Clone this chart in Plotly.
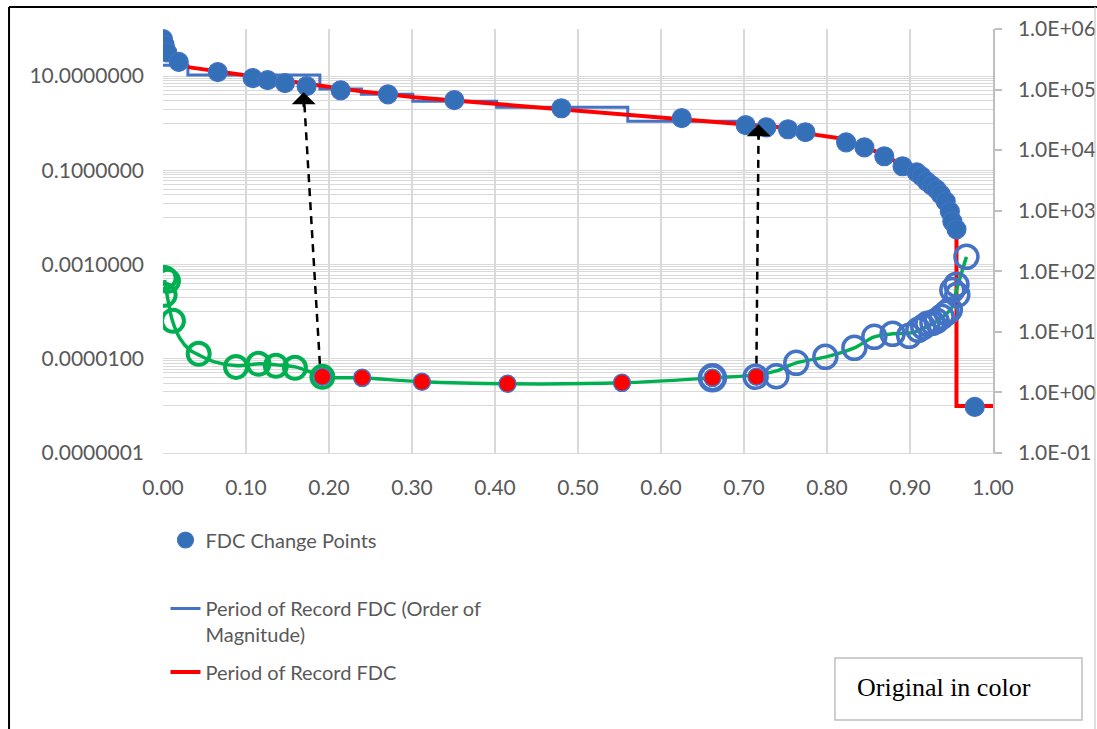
import numpy as np
import plotly.graph_objects as go

# ---- FDC change points (left axis) ----
cp_x = [0.000, 0.002, 0.005, 0.019, 0.066, 0.108, 0.126, 0.147, 0.173, 0.214, 0.271, 0.351, 0.480, 0.625,
        0.702, 0.727, 0.753, 0.774, 0.823, 0.845, 0.869, 0.891, 0.908, 0.914, 0.920, 0.926, 0.932, 0.937,
        0.943, 0.948, 0.951, 0.956, 0.978]
cp_y = [61, 46, 32, 20, 12.2, 9.1, 8.2, 7.1, 6.1, 5.0, 4.1, 3.1, 2.08, 1.28,
        0.91, 0.82, 0.745, 0.644, 0.394, 0.308, 0.199, 0.122, 0.0906, 0.0745, 0.0583, 0.048, 0.0394, 0.0308,
        0.0219, 0.0134, 0.0082, 0.0056, 9.5e-7]

# ---- period of record FDC, order of magnitude (step, left axis) ----
step_x = [0.0, 0.030, 0.189, 0.239, 0.301, 0.402, 0.560, 0.700]
step_y = [17.1, 10.5, 5.3, 4.1, 2.94, 2.19, 1.10, 1.10]

# ---- period of record FDC (left axis) ----
por_x = [0.030, 0.100, 0.165, 0.237, 0.303, 0.406, 0.526, 0.647, 0.695, 0.743, 0.783, 0.815, 0.845,
         0.869, 0.891, 0.912, 0.930, 0.943, 0.950, 0.956, 0.956, 1.000]
por_y = [15.5, 10.5, 7.45, 4.80, 3.57, 2.54, 1.71, 1.10, 0.95, 0.82, 0.58, 0.48, 0.32,
         0.21, 0.128, 0.0745, 0.0435, 0.023, 0.0116, 0.00503, 1.0e-6, 1.0e-6]

# ---- lower curve (right axis) ----
green_x = [0.002, 0.006, 0.011, 0.020, 0.032, 0.043, 0.062, 0.089, 0.116, 0.137, 0.159, 0.177, 0.192,
           0.240, 0.312, 0.415, 0.553, 0.662, 0.715, 0.739, 0.763, 0.799, 0.833, 0.857, 0.879, 0.902,
           0.920, 0.935, 0.951, 0.956, 0.968]
green_y = [72, 33.7, 15.8, 7.96, 5.05, 4.17, 3.20, 2.75, 2.97, 2.85, 2.64, 2.19, 1.81,
           1.74, 1.50, 1.39, 1.44, 1.74, 1.95, 2.27, 3.08, 3.87, 5.44, 8.27, 9.28, 9.64,
           12.1, 15.8, 25.9, 49, 173]

gc_x = [0.002, 0.006, 0.002, 0.012, 0.043, 0.088, 0.115, 0.136, 0.159, 0.192]
gc_y = [77.8, 69.5, 40.8, 15.2, 4.34, 2.64, 2.97, 2.75, 2.55, 1.81]

rd_x = [0.192, 0.240, 0.312, 0.415, 0.553, 0.662, 0.715]
rd_y = [1.81, 1.74, 1.50, 1.39, 1.44, 1.74, 1.81]

bc_x = [0.714, 0.739, 0.763, 0.798, 0.833, 0.857, 0.879, 0.899, 0.910, 0.916, 0.921, 0.927, 0.932,
        0.938, 0.944, 0.948, 0.951, 0.956, 0.957, 0.968]
bc_y = [1.81, 1.85, 3.08, 3.87, 5.44, 8.3, 9.3, 8.6, 10.8, 12.1, 13.6, 14.1, 15.2,
        17.7, 20.6, 23.1, 49, 60, 41, 173]
big_x = [0.662]
big_y = [1.74]

# ---- arrows (left axis units) ----
arrow_x0 = [0.189, 0.715]
arrow_y0 = [7.8e-6, 7.8e-6]
arrow_x1 = [0.1695, 0.7176]
arrow_y1 = [4.57, 0.95]

# ---- ticks ----
x_ticks = [round(0.1 * i, 1) for i in range(11)]
left_vals = [1e-7, 1e-5, 1e-3, 1e-1, 1e1, 1e2]
left_text = ["0.0000001", "0.0000100", "0.0010000", "0.1000000", "10.0000000", ""]
left_minor = [k * 10.0 ** m for m in [-6, -4, -2, 0] for k in range(1, 10)]
right_vals = [1e-1, 1e0, 1e1, 1e2, 1e3, 1e4, 1e5, 1e6]
right_text = ["1.0E-01", "1.0E+00", "1.0E+01", "1.0E+02", "1.0E+03", "1.0E+04", "1.0E+05", "1.0E+06"]

FONT = "Lato, 'Open Sans', sans-serif"
GRAY = "#595959"
GRID = "#d9d9d9"

fig = go.Figure()

# dashed arrow shafts
for i in range(len(arrow_x0)):
    fig.add_trace(go.Scatter(
        x=[arrow_x0[i], arrow_x1[i]], y=[arrow_y0[i], arrow_y1[i]],
        mode="lines", line=dict(color="black", width=2.5, dash="8px,6px"),
        showlegend=False, hoverinfo="skip"
    ))

fig.add_trace(go.Scatter(
    x=step_x, y=step_y, mode="lines", line_shape="hv",
    line=dict(color="#4472C4", width=3),
    name="Period of Record FDC (Order of<br>Magnitude)",
    legend="legend2"
))
fig.add_trace(go.Scatter(
    x=por_x, y=por_y, mode="lines",
    line=dict(color="#FF0000", width=4),
    name="Period of Record FDC",
    legend="legend3"
))
fig.add_trace(go.Scatter(
    x=cp_x, y=cp_y, mode="markers",
    marker=dict(size=19, color="#3370B8", line=dict(color="#4472C4", width=1.2)),
    name="FDC Change Points",
    legend="legend"
))

# lower curve on the right axis
fig.add_trace(go.Scatter(
    x=green_x, y=green_y, yaxis="y2", mode="lines", line_shape="spline",
    line=dict(color="#00B050", width=3.5), showlegend=False
))
fig.add_trace(go.Scatter(
    x=gc_x, y=gc_y, yaxis="y2", mode="markers",
    marker=dict(size=22, symbol="circle-open", color="#00B050", line=dict(width=4)),
    showlegend=False
))
fig.add_trace(go.Scatter(
    x=big_x, y=big_y, yaxis="y2", mode="markers",
    marker=dict(size=25, symbol="circle-open", color="#4472C4", line=dict(width=4.5)),
    showlegend=False
))
fig.add_trace(go.Scatter(
    x=rd_x, y=rd_y, yaxis="y2", mode="markers",
    marker=dict(size=17, color="#FF0000", line=dict(color="#4472C4", width=1.5)),
    showlegend=False
))
fig.add_trace(go.Scatter(
    x=bc_x, y=bc_y, yaxis="y2", mode="markers",
    marker=dict(size=23, symbol="circle-open", color="#4472C4", line=dict(width=3.5)),
    showlegend=False
))

# arrow heads
for i in range(len(arrow_x1)):
    fig.add_annotation(
        x=arrow_x1[i], y=np.log10(arrow_y1[i]), xref="x", yref="y",
        text="", showarrow=True, arrowhead=1, arrowsize=1.6, arrowwidth=2.5,
        arrowcolor="black", ax=0, ay=16
    )

# "Original in color" box
fig.add_shape(type="rect", xref="paper", yref="paper",
              x0=0.8096, x1=1.1072, y0=-0.6297, y1=-0.4835,
              line=dict(color="#bfbfbf", width=1.5), fillcolor="white")
fig.add_annotation(xref="paper", yref="paper", x=0.8337, y=-0.5542,
                   xanchor="left", yanchor="middle", showarrow=False,
                   text="Original in color",
                   font=dict(family="'Liberation Serif', 'Times New Roman', serif", size=26, color="black"))

# outer frame
fig.add_shape(type="line", xref="paper", yref="paper", x0=-0.1855, x1=1.13, y0=1.0519, y1=1.0519,
              line=dict(color="black", width=2))
fig.add_shape(type="line", xref="paper", yref="paper", x0=-0.1855, x1=-0.1855, y0=1.0519, y1=-0.7,
              line=dict(color="black", width=2))
fig.add_shape(type="line", xref="paper", yref="paper", x0=1.1229, x1=1.1229, y0=1.0519, y1=-0.7,
              line=dict(color="#c8c8c8", width=1.2))

legend_style = dict(
    xanchor="left", yanchor="middle", valign="top",
    font=dict(family=FONT, size=20, color=GRAY),
    bgcolor="rgba(0,0,0,0)"
)

fig.update_layout(
    width=1097, height=729,
    margin=dict(l=163, r=104, t=29, b=276, autoexpand=False),
    paper_bgcolor="white", plot_bgcolor="white",
    font=dict(family=FONT, size=21, color=GRAY),
    showlegend=True,
    legend=dict(x=0.003, y=-0.2052, **legend_style),
    legend2=dict(x=0.003, y=-0.3974, **legend_style),
    legend3=dict(x=0.003, y=-0.5165, **legend_style),
    xaxis=dict(
        range=[0, 1], tickvals=x_ticks, tickformat=".2f", automargin=False,
        showgrid=True, gridcolor=GRID, gridwidth=1.5,
        showline=True, linecolor=GRID, zeroline=False,
        ticks="", ticklabelstandoff=16,
        tickfont=dict(family=FONT, size=21, color=GRAY)
    ),
    yaxis=dict(
        type="log", range=[-7, 2], automargin=False,
        tickvals=left_vals, ticktext=left_text,
        showgrid=True, gridcolor=GRID, gridwidth=1,
        minor=dict(tickvals=left_minor, showgrid=True, gridcolor=GRID, gridwidth=1),
        zeroline=False, showline=False, ticks="",
        ticklabelstandoff=18,
        tickfont=dict(family=FONT, size=21, color=GRAY)
    ),
    yaxis2=dict(
        type="log", range=[-1, 6], overlaying="y", side="right", automargin=False,
        tickvals=right_vals, ticktext=right_text,
        showgrid=False, zeroline=False,
        showline=True, linecolor="#bfbfbf", linewidth=1.5,
        ticks="outside", ticklen=7, tickcolor="#bfbfbf", tickwidth=1.5,
        ticklabelstandoff=12,
        tickfont=dict(family=FONT, size=21, color=GRAY)
    ),
)

fig.write_html("out.html", config={"displayModeBar": False},
               post_script="document.body.style.margin='0px';")
